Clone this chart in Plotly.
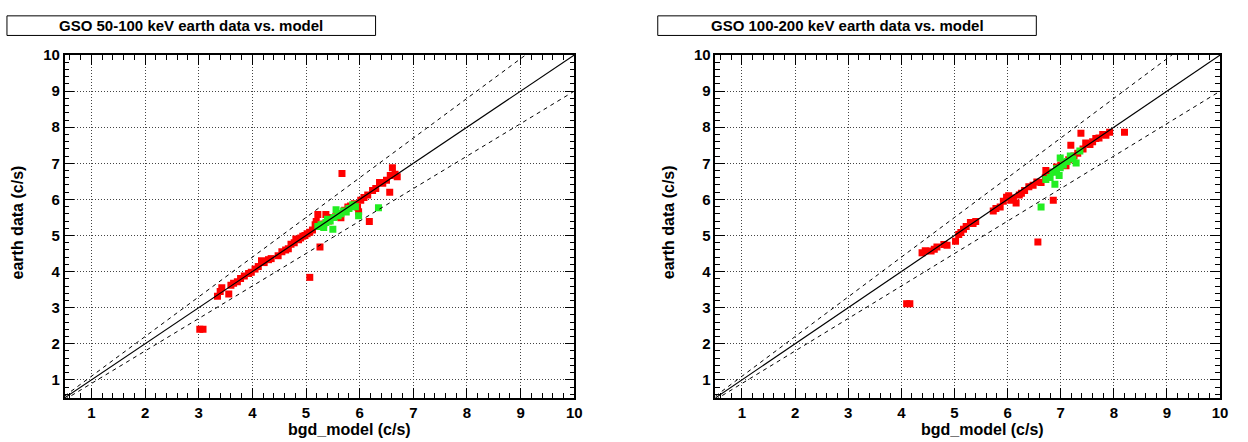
import plotly.graph_objects as go

W, H = 1248, 442

# ---------------- data ----------------
titles = ["GSO 50-100 keV earth data vs. model", "GSO 100-200 keV earth data vs. model"]
x_label = "bgd_model (c/s)"
y_label = "earth data (c/s)"
tick_vals = [1, 2, 3, 4, 5, 6, 7, 8, 9, 10]
axis_range = [0.5, 10]

red1_x = [3.02, 3.08, 3.35, 3.40, 3.43, 3.56, 3.60, 3.65, 3.72, 3.78,
          3.85, 3.93, 3.98, 4.05, 4.11, 4.17, 4.22, 4.30, 4.35, 4.48,
          4.55, 4.62, 4.67, 4.72, 4.78, 4.81, 4.86, 4.90, 4.94, 4.98,
          5.02, 5.07, 5.07, 5.12, 5.17, 5.19, 5.22, 5.26, 5.28, 5.33,
          5.37, 5.42, 5.48, 5.55, 5.60, 5.65, 5.67, 5.72, 5.78, 5.83,
          5.90, 5.96, 5.98, 6.02, 6.08, 6.15, 6.18, 6.24, 6.30, 6.37,
          6.43, 6.50, 6.56, 6.57, 6.61, 6.66, 6.70]
red1_y = [2.40, 2.40, 3.32, 3.45, 3.55, 3.38, 3.62, 3.68, 3.72, 3.81,
          3.88, 3.95, 3.98, 4.07, 4.14, 4.30, 4.25, 4.33, 4.36, 4.44,
          4.55, 4.60, 4.63, 4.76, 4.80, 4.90, 4.88, 4.93, 4.98, 5.00,
          5.05, 5.09, 3.84, 5.15, 5.30, 5.39, 5.58, 4.68, 5.25, 5.32,
          5.58, 5.40, 5.50, 5.52, 5.60, 5.49, 6.72, 5.70, 5.79, 5.82,
          5.88, 5.79, 5.66, 5.98, 6.05, 6.12, 5.39, 6.25, 6.30, 6.47,
          6.45, 6.53, 6.20, 6.66, 6.88, 6.70, 6.63]

green1_x = [5.22, 5.28, 5.33, 5.37, 5.40, 5.45, 5.50, 5.52, 5.56, 5.60,
            5.65, 5.70, 5.75, 5.80, 5.87, 5.92, 5.98, 6.35]
green1_y = [5.25, 5.30, 5.22, 5.36, 5.45, 5.40, 5.17, 5.50, 5.71, 5.55,
            5.60, 5.68, 5.65, 5.75, 5.85, 5.80, 5.55, 5.77]

red2_x = [4.10, 4.16, 4.39, 4.45, 4.56, 4.62, 4.67, 4.80, 4.86, 5.02,
          5.08, 5.12, 5.17, 5.22, 5.30, 5.35, 5.40, 5.73, 5.78, 5.86,
          5.92, 5.98, 6.02, 6.06, 6.11, 6.16, 6.22, 6.26, 6.32, 6.40,
          6.48, 6.55, 6.57, 6.63, 6.71, 6.72, 6.80, 6.86, 6.92, 7.00,
          7.05, 7.10, 7.15, 7.19, 7.25, 7.32, 7.38, 7.42, 7.47, 7.55,
          7.60, 7.66, 7.72, 7.79, 7.85, 7.92, 8.20]
red2_y = [3.11, 3.11, 4.52, 4.58, 4.57, 4.62, 4.68, 4.75, 4.73, 4.84,
          5.03, 5.08, 5.17, 5.25, 5.36, 5.33, 5.39, 5.68, 5.75, 5.79,
          5.95, 6.06, 6.10, 5.98, 6.04, 5.90, 6.12, 6.17, 6.25, 6.35,
          6.39, 6.48, 4.82, 6.47, 6.61, 6.80, 6.75, 5.98, 6.90, 6.95,
          7.02, 6.93, 7.10, 7.50, 7.20, 7.28, 7.83, 7.40, 7.56, 7.52,
          7.60, 7.69, 7.70, 7.80, 7.78, 7.86, 7.86]

green2_x = [6.63, 6.72, 6.80, 6.85, 6.89, 6.92, 6.97, 6.99, 6.99, 7.05,
            7.12, 7.18, 7.23, 7.29, 7.36]
green2_y = [5.79, 6.55, 6.61, 6.75, 6.42, 6.85, 6.66, 6.88, 7.15, 6.95,
            7.05, 7.20, 7.12, 7.01, 7.34]

line_x = [0.5, 10.0]
band_factors = [1.1, 0.9]

# ---------------- figure ----------------
FONT = "Liberation Sans"
RED = "#ff0000"
GREEN = "#22ee22"

fig = go.Figure()

panels = [
    dict(xa="x", ya="y", red=(red1_x, red1_y), green=(green1_x, green1_y)),
    dict(xa="x2", ya="y2", red=(red2_x, red2_y), green=(green2_x, green2_y)),
]

for p in panels:
    fig.add_trace(go.Scatter(x=p["red"][0], y=p["red"][1], mode="markers",
                             marker=dict(symbol="square", size=7, color=RED),
                             xaxis=p["xa"], yaxis=p["ya"], showlegend=False))
    fig.add_trace(go.Scatter(x=p["green"][0], y=p["green"][1], mode="markers",
                             marker=dict(symbol="square", size=7, color=GREEN),
                             xaxis=p["xa"], yaxis=p["ya"], showlegend=False))
    fig.add_trace(go.Scatter(x=line_x, y=line_x, mode="lines",
                             line=dict(color="black", width=1.2),
                             xaxis=p["xa"], yaxis=p["ya"], showlegend=False))
    for f in band_factors:
        fig.add_trace(go.Scatter(x=line_x, y=[v * f for v in line_x], mode="lines",
                                 line=dict(color="black", width=1, dash="4px,4px"),
                                 xaxis=p["xa"], yaxis=p["ya"], showlegend=False))

def px2x(px):
    return px / W

def px2y(py):
    return 1 - py / H

y_dom = [px2y(397), px2y(47)]
x_doms = [[px2x(65), px2x(578)], [px2x(720), px2x(1228)]]

tickfont = dict(family=FONT, size=15, color="black", weight="bold")

def axis_common(anchor, dom):
    return dict(
        domain=dom, anchor=anchor, range=axis_range,
        tickvals=tick_vals, ticktext=[str(v) for v in tick_vals],
        ticks="inside", ticklen=10, tickwidth=1, tickcolor="black",
        showline=True, linecolor="black", linewidth=1.5, mirror="allticks",
        showgrid=True, gridcolor="#444444", gridwidth=1, griddash="1px,2px",
        zeroline=False, tickfont=tickfont,
        minor=dict(dtick=0.2, tick0=0, ticks="inside", ticklen=5,
                   tickcolor="black", tickwidth=1, showgrid=False),
    )

fig.update_layout(
    width=W, height=H,
    margin=dict(l=0, r=0, t=0, b=0),
    paper_bgcolor="white", plot_bgcolor="white",
    xaxis=axis_common("y", x_doms[0]),
    yaxis=axis_common("x", y_dom),
    xaxis2=axis_common("y2", x_doms[1]),
    yaxis2=axis_common("x2", y_dom),
)

title_boxes = [(7, 378), (662, 1043)]
xtitle_centers = [352, 989]
ytitle_x = [18, 673]

shapes = []
annotations = []
for i in range(2):
    x0, x1 = title_boxes[i]
    shapes.append(dict(type="rect", xref="paper", yref="paper",
                       x0=px2x(x0), x1=px2x(x1), y0=px2y(27), y1=px2y(7),
                       line=dict(color="black", width=1), fillcolor="white"))
    annotations.append(dict(text=titles[i], xref="paper", yref="paper",
                            x=px2x((x0 + x1) / 2), y=px2y(17), showarrow=False,
                            xanchor="center", yanchor="middle",
                            font=dict(family=FONT, size=15, color="black", weight="bold")))
    annotations.append(dict(text=x_label, xref="paper", yref="paper",
                            x=px2x(xtitle_centers[i]), y=px2y(429), showarrow=False,
                            xanchor="center", yanchor="middle",
                            font=dict(family=FONT, size=16, color="black", weight="bold")))
    annotations.append(dict(text=y_label, xref="paper", yref="paper",
                            x=px2x(ytitle_x[i]), y=px2y(218), showarrow=False,
                            xanchor="center", yanchor="middle", textangle=-90,
                            font=dict(family=FONT, size=16, color="black", weight="bold")))

fig.update_layout(shapes=shapes, annotations=annotations)

fig.write_html(
    "out.html",
    config={"displayModeBar": False},
    post_script="document.body.style.margin='0';document.body.style.padding='0';"
                "document.body.style.overflow='hidden';",
)
